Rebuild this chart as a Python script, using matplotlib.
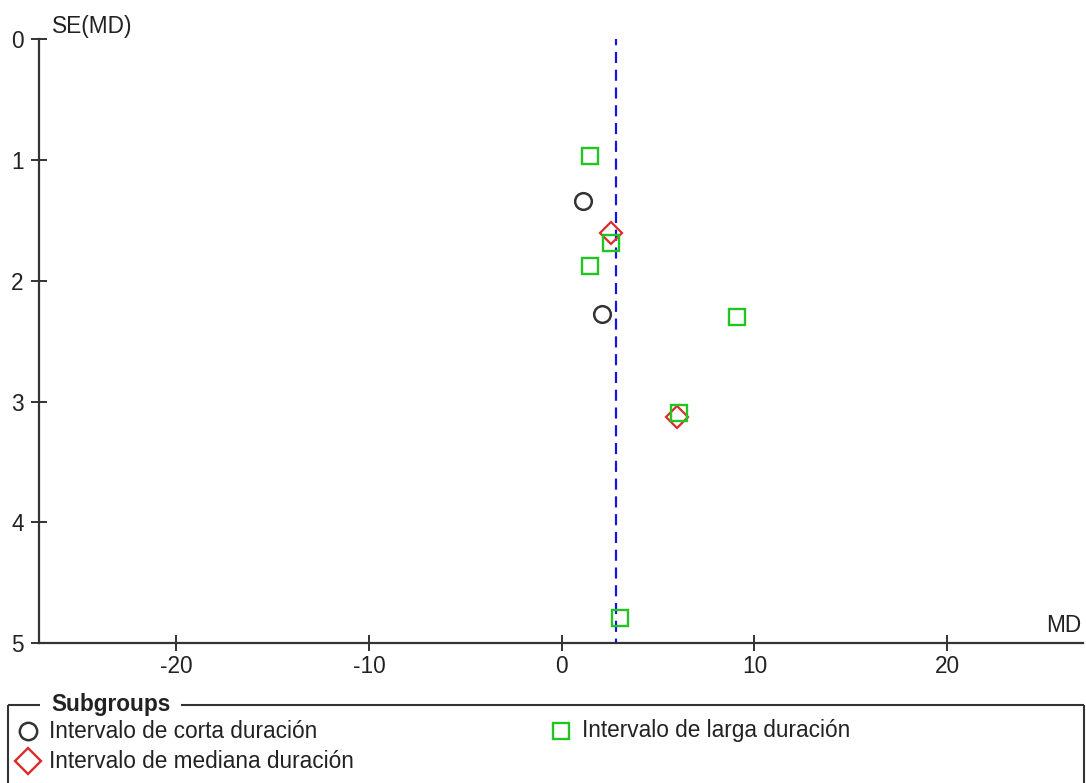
import matplotlib
matplotlib.use("Agg")
import matplotlib.pyplot as plt

plt.rcParams['font.family'] = ['Liberation Sans', 'DejaVu Sans']

# ---- data ----
circle_md = [1.12, 2.11]
circle_se = [1.337, 2.277]
diamond_md = [2.54, 5.97]
diamond_se = [1.602, 3.124]
square_md = [1.47, 2.54, 1.47, 9.11, 6.07, 3.03]
square_se = [0.968, 1.690, 1.878, 2.297, 3.096, 4.787]
pooled_md = 2.83
x_ticks = [-20, -10, 0, 10, 20]
y_ticks = [0, 1, 2, 3, 4, 5]
subgroup_labels = ["Intervalo de corta duración",
                   "Intervalo de mediana duración",
                   "Intervalo de larga duración"]
x_label = "MD"
y_label = "SE(MD)"
legend_title = "Subgroups"

# ---- styling ----
W, H = 1086, 783
FS = 16.3
txt_color = "#222222"
ax_color = "#333333"
c_circle = "#333333"
c_diamond = "#dd2a2a"
c_square = "#22c422"
c_line = "#1515dd"

fig = plt.figure(figsize=(W / 100, H / 100), dpi=100)
left_px, right_px, top_px, bottom_px = 39.3, 1083, 39, 643.3
ax = fig.add_axes([left_px / W, 1 - bottom_px / H,
                   (right_px - left_px) / W, (bottom_px - top_px) / H])
ax.set_xlim(-27.11, 27.05)
ax.set_ylim(5, 0)
ax.patch.set_alpha(0)

for s in ["top", "right"]:
    ax.spines[s].set_visible(False)
for s in ["left", "bottom"]:
    ax.spines[s].set_linewidth(1.6)
    ax.spines[s].set_color(ax_color)

ax.set_xticks(x_ticks)
ax.set_yticks(y_ticks)
ax.set_xticklabels([str(v) for v in x_ticks])
ax.set_yticklabels([str(v) for v in y_ticks])
ax.tick_params(axis="both", direction="inout", length=11.5, width=1.4,
               color=ax_color, labelsize=FS, labelcolor=txt_color)
ax.tick_params(axis="x", pad=2.5)
ax.tick_params(axis="y", pad=5.5)

ax.axvline(pooled_md, color=c_line, lw=1.6, ls=(3, (5, 3)), zorder=1)

ax.plot(circle_md, circle_se, ls="none", marker="o", ms=12, mfc="none",
        mec=c_circle, mew=1.8, zorder=3, clip_on=False)
ax.plot(diamond_md, diamond_se, ls="none", marker="D", ms=11.5, mfc="none",
        mec=c_diamond, mew=1.6, zorder=3, clip_on=False)
ax.plot(square_md, square_se, ls="none", marker="s", ms=11, mfc="none",
        mec=c_square, mew=1.7, zorder=4, clip_on=False)

# ---- overlay in pixel coordinates for labels and legend ----
ov = fig.add_axes([0, 0, 1, 1])
ov.set_xlim(0, W)
ov.set_ylim(H, 0)
ov.axis("off")
ov.patch.set_alpha(0)

ov.text(52, 26, y_label, fontsize=FS, color=txt_color, ha="left", va="center")
ov.text(1081, 626, x_label, fontsize=FS, color=txt_color, ha="right", va="center")

# legend frame
frame_kw = dict(color=ax_color, lw=1.5, solid_capstyle="butt")
ov.plot([8, 40], [705, 705], **frame_kw)
ov.plot([181, 1084], [705, 705], **frame_kw)
ov.plot([8, 8], [705, 790], **frame_kw)
ov.plot([1084, 1084], [705, 790], **frame_kw)
ov.text(51, 704, legend_title, fontsize=FS, fontweight="bold",
        color=txt_color, ha="left", va="center")

ov.plot([28], [731], ls="none", marker="o", ms=12.5, mfc="none", mec=c_circle, mew=1.8)
ov.plot([28], [761], ls="none", marker="D", ms=13, mfc="none", mec=c_diamond, mew=1.7)
ov.plot([561], [731], ls="none", marker="s", ms=11.5, mfc="none", mec=c_square, mew=1.7)
ov.text(49, 731, subgroup_labels[0], fontsize=FS, color=txt_color, ha="left", va="center")
ov.text(49, 761, subgroup_labels[1], fontsize=FS, color=txt_color, ha="left", va="center")
ov.text(582, 731, subgroup_labels[2], fontsize=FS, color=txt_color, ha="left", va="center")

fig.savefig("out.png", dpi=100)
